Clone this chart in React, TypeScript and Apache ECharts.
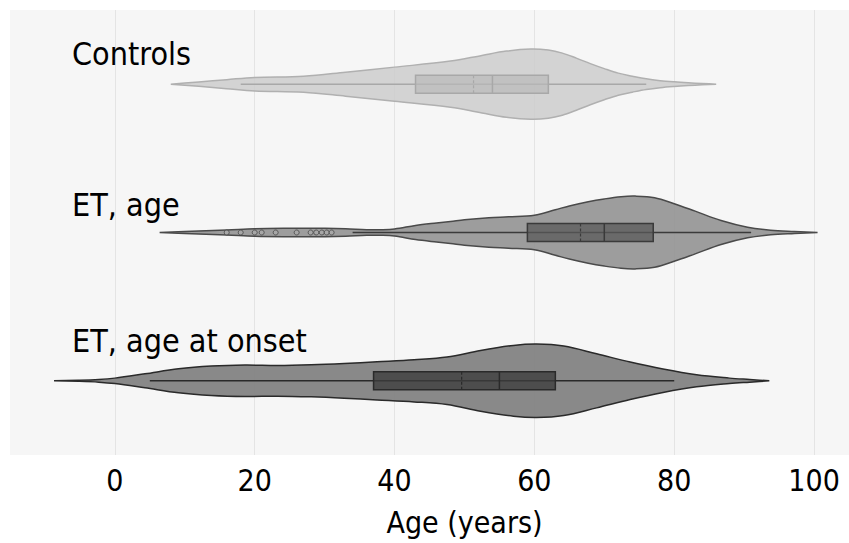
import React, { useEffect, useRef } from "react";
import * as echarts from "echarts";

// ---- data ----
const categories = ["Controls", "ET, age", "ET, age at onset"];
const xTicks = [0, 20, 40, 60, 80, 100];

// violin outlines: x values (years) and density (relative units)
const controlsX = [8, 12, 16, 20, 27, 33, 40, 48, 52.5, 56, 59.5, 62, 64, 66, 68, 70, 72, 74, 76, 78, 80, 82, 84, 86];
const controlsDensity = [0, 2.2, 4.5, 6.7, 8, 12, 17, 23, 28.7, 33, 35, 34, 31, 26, 20.5, 15.5, 11, 8, 5.3, 3.5, 2.3, 1.4, 0.7, 0];

const etAgeX = [6.4, 10, 16, 20, 25, 30, 33, 36, 38, 40, 43, 46, 48, 50, 53.5, 56.3, 60, 63, 65, 67.7, 70, 72.4, 74.4, 77.2, 80, 83, 86.7, 90.5, 93.8, 97.2, 100.5];
const etAgeDensity = [0, 1, 2.5, 3.8, 4.2, 4.2, 3.8, 2.8, 2.8, 3.5, 7, 9.5, 11, 12.7, 14.7, 15.7, 17.3, 22.7, 26.5, 30.7, 33.5, 35.7, 36.3, 34.7, 28.7, 21.3, 12, 5.3, 2.3, 1, 0];

const onsetX = [-8.7, -5.2, -2.3, 0, 4.3, 9.1, 13.8, 18.6, 23.3, 28.1, 32.8, 37.5, 42.8, 47.5, 52.3, 57, 60.3, 64.2, 68.9, 73.7, 78.4, 83.2, 87.9, 90.8, 93.6];
const onsetDensity = [0, 0.5, 1.3, 2.7, 7, 12, 14.7, 15.7, 15.3, 16, 17.3, 19, 21, 23.7, 30.3, 35.3, 36.7, 34.7, 27, 18.7, 11.7, 6, 2.7, 1.3, 0];

// box-plot statistics per category
const whiskerLow = [18, 34, 5];
const q1 = [43, 59, 37];
const medians = [54, 70, 55];
const means = [51.3, 66.6, 49.6];
const q3 = [62, 77, 63];
const whiskerHigh = [76, 91, 80];

// outliers (ET, age)
const etAgeOutliers = [16, 18, 20, 21, 23, 26, 28, 28.8, 29.6, 30.3, 31];

// ---- styles ----
const FONT = "'Liberation Sans Narrow', 'DejaVu Sans Condensed', 'Liberation Sans', sans-serif";
const violinFill = ["rgba(205,205,205,0.85)", "rgba(145,145,145,0.88)", "rgba(125,125,125,0.9)"];
const violinStroke = ["#b0b0b0", "#4a4a4a", "#2a2a2a"];
const boxFill = ["rgba(185,185,185,0.7)", "rgba(90,90,90,0.75)", "rgba(60,60,60,0.78)"];
const boxStroke = ["#a8a8a8", "#3a3a3a", "#2a2a2a"];
const DENSITY_SCALE = 1 / 148; // density units -> category units
const BOX_HALF = 9 / 148;
const labelOffsetPx = [-30, -28, -40];

const violinX = [controlsX, etAgeX, onsetX];
const violinD = [controlsDensity, etAgeDensity, onsetDensity];

export default function App() {
  const ref = useRef<HTMLDivElement>(null);
  useEffect(() => {
    if (!ref.current) return;
    const chart = echarts.init(ref.current, null, { renderer: "svg" });

    const renderItem = (params: any, api: any) => {
      const i = api.value(0) as number;
      const xs = violinX[i];
      const ds = violinD[i];
      const top: number[][] = [];
      const bottom: number[][] = [];
      for (let k = 0; k < xs.length; k++) {
        top.push(api.coord([xs[k], i - ds[k] * DENSITY_SCALE]));
        bottom.push(api.coord([xs[k], i + ds[k] * DENSITY_SCALE]));
      }
      const pts = top.concat(bottom.slice().reverse());
      const c = api.coord([0, i]);
      const wl = api.coord([whiskerLow[i], i]);
      const wh = api.coord([whiskerHigh[i], i]);
      const b1 = api.coord([q1[i], i - BOX_HALF]);
      const b2 = api.coord([q3[i], i + BOX_HALF]);
      const med = api.coord([medians[i], i]);
      const mn = api.coord([means[i], i]);
      const bh = b2[1] - b1[1];
      const cs = params.coordSys;
      return {
        type: "group",
        children: [
          {
            type: "polygon",
            shape: { points: pts, smooth: 0.35 },
            style: { fill: violinFill[i], stroke: violinStroke[i], lineWidth: 1.5 },
          },
          {
            type: "line",
            shape: { x1: wl[0], y1: c[1], x2: wh[0], y2: c[1] },
            style: { stroke: boxStroke[i], lineWidth: 1.5 },
          },
          {
            type: "rect",
            shape: { x: b1[0], y: b1[1], width: b2[0] - b1[0], height: bh },
            style: { fill: boxFill[i], stroke: boxStroke[i], lineWidth: 1.5 },
          },
          {
            type: "line",
            shape: { x1: med[0], y1: b1[1], x2: med[0], y2: b2[1] },
            style: { stroke: boxStroke[i], lineWidth: 1.5 },
          },
          {
            type: "line",
            shape: { x1: mn[0], y1: b1[1], x2: mn[0], y2: b2[1] },
            style: { stroke: boxStroke[i], lineWidth: 1.2, lineDash: [3, 2] },
          },
          {
            type: "text",
            x: cs.x + 62,
            y: c[1] + labelOffsetPx[i],
            style: {
              text: categories[i],
              fill: "#000",
              font: `32px ${FONT}`,
              verticalAlign: "middle",
              align: "left",
            },
          },
        ],
      };
    };

    chart.setOption({
      animation: false,
      grid: {
        left: 10,
        right: 0,
        top: 10,
        bottom: 88,
        show: true,
        backgroundColor: "#f6f6f6",
        borderWidth: 0,
      },
      xAxis: {
        type: "value",
        min: -15,
        max: 105,
        name: "Age (years)",
        nameLocation: "middle",
        nameGap: 52,
        nameTextStyle: { fontSize: 30, fontFamily: FONT, color: "#000", padding: [0, 0, 0, 70] },
        axisLine: { show: false },
        axisTick: { show: false, customValues: xTicks },
        axisLabel: { customValues: xTicks, fontSize: 30, fontFamily: FONT, color: "#000", margin: 10 },
        splitLine: { show: true, lineStyle: { color: "#e4e4e4", width: 1 } },
      },
      yAxis: {
        type: "value",
        min: -0.5,
        max: 2.5,
        inverse: true,
        show: false,
        splitLine: { show: false },
      },
      series: [
        {
          type: "custom",
          renderItem,
          data: categories.map((_, i) => [i]),
          encode: { x: -1, y: -1 } as any,
          clip: false,
          z: 2,
        },
        {
          type: "scatter",
          data: etAgeOutliers.map((v) => [v, 1]),
          symbol: "circle",
          symbolSize: 5,
          itemStyle: { color: "rgba(170,170,170,0.9)", borderColor: "#444", borderWidth: 1 },
          z: 3,
        },
      ],
    });
    return () => chart.dispose();
  }, []);
  return <div ref={ref} style={{ width: 849, height: 543, position: "absolute", left: 0, top: 0 }} />;
}
